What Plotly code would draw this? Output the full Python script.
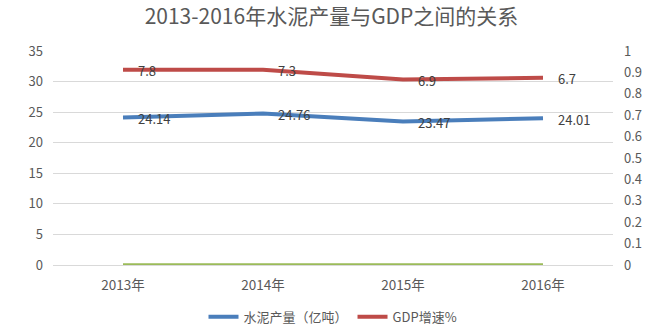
import plotly.graph_objects as go

categories = ["2013年", "2014年", "2015年", "2016年"]
cement = [24.14, 24.76, 23.47, 24.01]
gdp_labels = ["7.8", "7.3", "6.9", "6.7"]
gdp_line = [0.912, 0.912, 0.867, 0.875]   # plotted position on secondary axis
zero_series = [0, 0, 0, 0]
left_ticks = [0, 5, 10, 15, 20, 25, 30, 35]
right_ticks = [0, 0.1, 0.2, 0.3, 0.4, 0.5, 0.6, 0.7, 0.8, 0.9, 1]

FONT = "Noto Sans CJK SC"
GREY = "#595959"
LABEL = "#404040"

fig = go.Figure()
fig.add_trace(go.Scatter(
    x=categories, y=zero_series, mode="lines", yaxis="y2",
    line=dict(color="#9BBB59", width=3.5), showlegend=False, hoverinfo="skip"))
fig.add_trace(go.Scatter(
    x=categories, y=cement, mode="lines", name="水泥产量（亿吨）",
    line=dict(color="#4A7EBB", width=4)))
fig.add_trace(go.Scatter(
    x=categories, y=gdp_line, mode="lines", name="GDP增速%", yaxis="y2",
    line=dict(color="#BE4B48", width=4)))

annotations = []
for c, v in zip(categories, cement):
    annotations.append(dict(x=c, y=v, xref="x", yref="y", text=str(v), showarrow=False,
                            xanchor="left", yanchor="middle", xshift=13, yshift=-1,
                            font=dict(family=FONT, size=13, color=LABEL)))
for c, v, t in zip(categories, gdp_line, gdp_labels):
    annotations.append(dict(x=c, y=v, xref="x", yref="y2", text=t, showarrow=False,
                            xanchor="left", yanchor="middle", xshift=13, yshift=-1,
                            font=dict(family=FONT, size=13, color=LABEL)))

fig.update_layout(
    width=663, height=336,
    margin=dict(l=53, r=50, t=51, b=71, autoexpand=False),
    paper_bgcolor="white", plot_bgcolor="white",
    font=dict(family=FONT, color=GREY, size=13),
    title=dict(text="2013-2016年水泥产量与GDP之间的关系", x=0.5, xanchor="center",
               y=0.95, yanchor="middle", font=dict(family=FONT, size=21, color=GREY)),
    xaxis=dict(type="category", range=[-0.5, 3.5], showgrid=False, showline=True,
               linecolor="#D9D9D9", linewidth=1, ticks="", ticklabelstandoff=8,
               tickfont=dict(family=FONT, size=13.5, color=GREY)),
    yaxis=dict(range=[0, 35], tickvals=left_ticks, showgrid=True, gridcolor="#D9D9D9",
               gridwidth=1, zeroline=False, showline=False, ticks="", ticklabelstandoff=9,
               tickfont=dict(family=FONT, size=13, color=GREY)),
    yaxis2=dict(range=[0, 1], tickvals=right_ticks, overlaying="y", side="right",
                showgrid=False, zeroline=False, showline=False, ticks="", ticklabelstandoff=10,
                tickfont=dict(family=FONT, size=13, color=GREY)),
    legend=dict(orientation="h", x=0.5, xanchor="center", yref="container", y=0.057,
                yanchor="middle", itemwidth=30,
                font=dict(family=FONT, size=13, color=GREY)),
    annotations=annotations,
)

fig.write_html("out.html")
